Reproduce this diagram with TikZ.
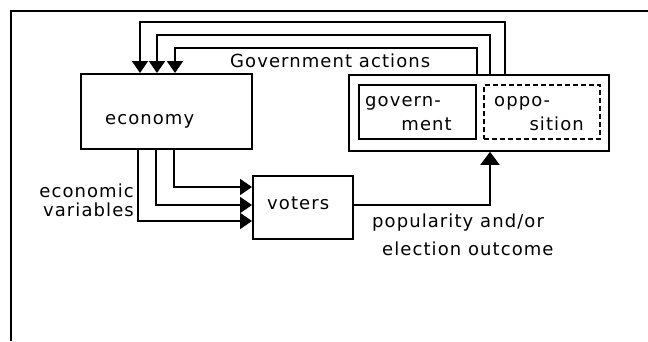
\documentclass[tikz,border=0pt]{standalone}
\usepackage{fontspec}
\setmainfont{DejaVu Sans}[LetterSpace=6]
\usetikzlibrary{arrows.meta,calc}
\begin{document}
\begin{tikzpicture}[x=1pt,y=-1pt,
  every node/.style={font=\fontsize{18}{20}\selectfont, inner sep=0pt},
  box/.style={draw, line width=1.8pt, rectangle, anchor=north west},
  dbox/.style={draw, line width=1.8pt, dash pattern=on 5pt off 3pt, rectangle, anchor=north west},
  conn/.style={line width=1.8pt, -{Triangle[length=12pt,width=16pt]}},
  bigconn/.style={line width=1.8pt, -{Triangle[length=13pt,width=19pt]}},
  lw/.style={anchor=base west},
  le/.style={anchor=base east}
]
\useasboundingbox (0,0) rectangle (648,341);
% outer frame
\draw[line width=1.8pt] (11,341) -- (11,11) -- (648,11);

% boxes
\node[box, minimum width=171pt, minimum height=75pt] (econ) at (80,73) {};
\node[box, minimum width=260pt, minimum height=76pt] (gbox) at (348,74) {};
\node[box, minimum width=117pt, minimum height=54pt] (govt) at (358,84) {};
\node[dbox, minimum width=116pt, minimum height=54pt] (oppo) at (483,84) {};
\node[box, minimum width=100pt, minimum height=63pt] (voters) at (252,175) {};

% texts
\node[lw] (tecon) at (105,124) {economy};
\node[lw] (tgovact) at (230,67) {Government actions};
\node[lw] (tgov1) at (365,106) {govern-};
\node[le] (tgov2) at (452,130) {ment};
\node[lw] (topp1) at (494,106) {oppo-};
\node[le] (topp2) at (584,130) {sition};
\node[lw] (tvoters) at (267,209) {voters};
\node[le] (tev1) at (134,197) {economic};
\node[le] (tev2) at (134,216) {variables};
\node[lw] (tpop1) at (372,227) {popularity and/or};
\node[lw] (tpop2) at (382,255) {election outcome};

% government actions feedback
\draw[conn] ($(gbox.north west)+(129,0)$) |- ($(econ.north west)+(95,-25)$) -- ($(econ.north west)+(95,0)$);
\draw[conn] ($(gbox.north west)+(142,0)$) |- ($(econ.north west)+(77,-38)$) -- ($(econ.north west)+(77,0)$);
\draw[conn] ($(gbox.north west)+(157,0)$) |- ($(econ.north west)+(60,-51)$) -- ($(econ.north west)+(60,0)$);

% economic variables
\draw[conn] ($(econ.south west)+(94,0)$) |- ($(voters.north west)+(0,12)$);
\draw[conn] ($(econ.south west)+(76,0)$) |- ($(voters.north west)+(0,30)$);
\draw[conn] ($(econ.south west)+(58,0)$) |- ($(voters.north west)+(0,46)$);

% popularity
\draw[bigconn] ($(voters.north east)+(0,30)$) -| ($(gbox.south west)+(142,0)$);
\end{tikzpicture}
\end{document}
